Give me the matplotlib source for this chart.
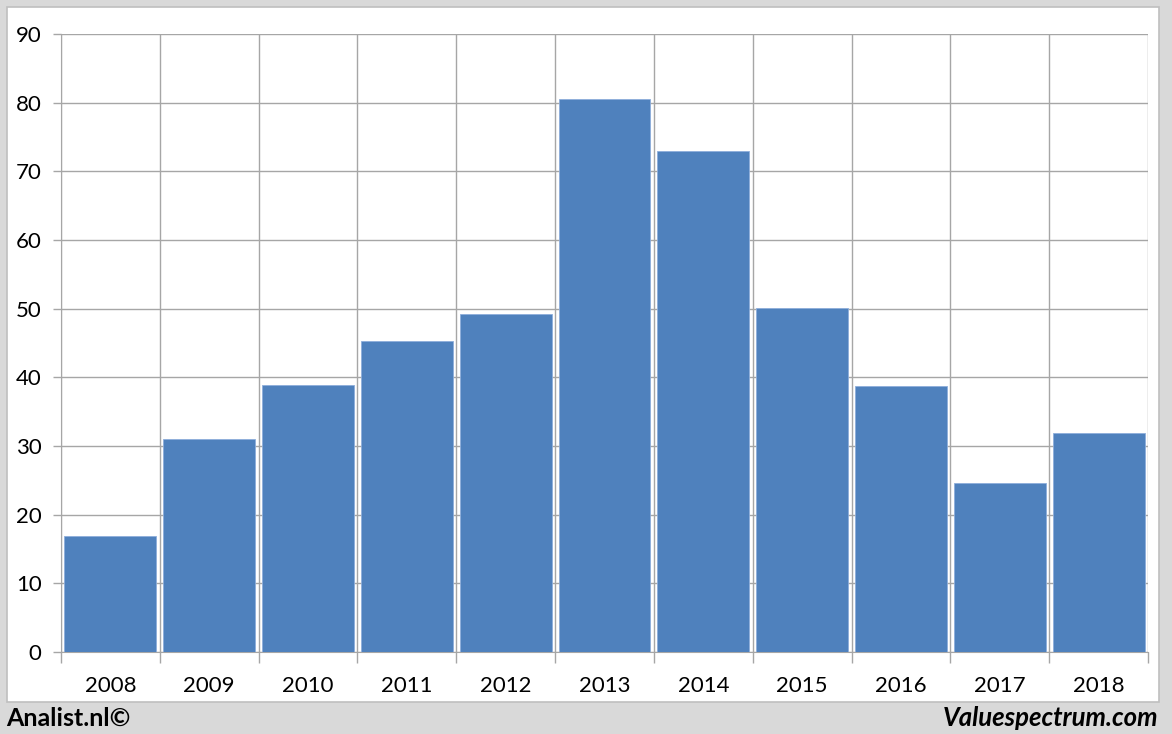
import matplotlib
matplotlib.use("Agg")
import matplotlib.pyplot as plt
from matplotlib.patches import Rectangle
import numpy as np

years = ["2008", "2009", "2010", "2011", "2012", "2013", "2014", "2015", "2016", "2017", "2018"]
values = [16.9, 31.0, 38.9, 45.3, 49.2, 80.5, 73.0, 50.1, 38.7, 24.6, 31.9]
y_ticks = [0, 10, 20, 30, 40, 50, 60, 70, 80, 90]

plt.rcParams['font.family'] = ['Lato', 'DejaVu Sans']

W, H = 1172, 734
fig = plt.figure(figsize=(W / 100, H / 100), dpi=100)
fig.patch.set_facecolor('#d9d9d9')

# white panel
panel = Rectangle((7 / W, 1 - 702 / H), (1159 - 7) / W, (702 - 7) / H,
                  transform=fig.transFigure, facecolor='white',
                  edgecolor='#bfbfbf', linewidth=1.2, zorder=-10)
fig.patches.append(panel)

left, right, top, bottom = 61, 1148, 34, 652
ax = fig.add_axes([left / W, 1 - bottom / H, (right - left) / W, (bottom - top) / H])
ax.set_facecolor('white')

x = np.arange(len(years))
ax.bar(x, values, width=0.93, color='#4f81bd', edgecolor='#8eaedb', linewidth=0.6, zorder=3)

grid_color = '#a6a6a6'
ax.set_xlim(-0.5, len(years) - 0.5)
ax.set_ylim(0, 90)
ax.set_yticks(y_ticks)
ax.set_yticklabels([str(v) for v in y_ticks], fontsize=16)
ax.yaxis.grid(True, color=grid_color, linewidth=1.0, zorder=0)

ax.set_xticks(x)
ax.set_xticklabels(years, fontsize=16)
ax.tick_params(axis='x', length=0, pad=17)
ax.set_xticks(np.arange(len(years) + 1) - 0.5, minor=True)
ax.tick_params(axis='x', which='minor', length=8, color=grid_color, width=1.0)
ax.xaxis.grid(True, which='minor', color=grid_color, linewidth=1.0, zorder=0)
ax.tick_params(axis='y', length=6, color=grid_color, width=1.0, pad=8)

for s in ['top', 'right']:
    ax.spines[s].set_visible(False)
ax.spines['left'].set_color(grid_color)
ax.spines['bottom'].set_color(grid_color)

fig.text(6 / W, 1 - 718 / H, "Analist.nl©", fontsize=18, fontweight='bold',
         ha='left', va='center', color='black')
fig.text(1158 / W, 1 - 718 / H, "Valuespectrum.com", fontsize=18.5, fontweight='bold',
         style='italic', ha='right', va='center', color='black')

fig.savefig("out.png", dpi=100, facecolor=fig.get_facecolor())
